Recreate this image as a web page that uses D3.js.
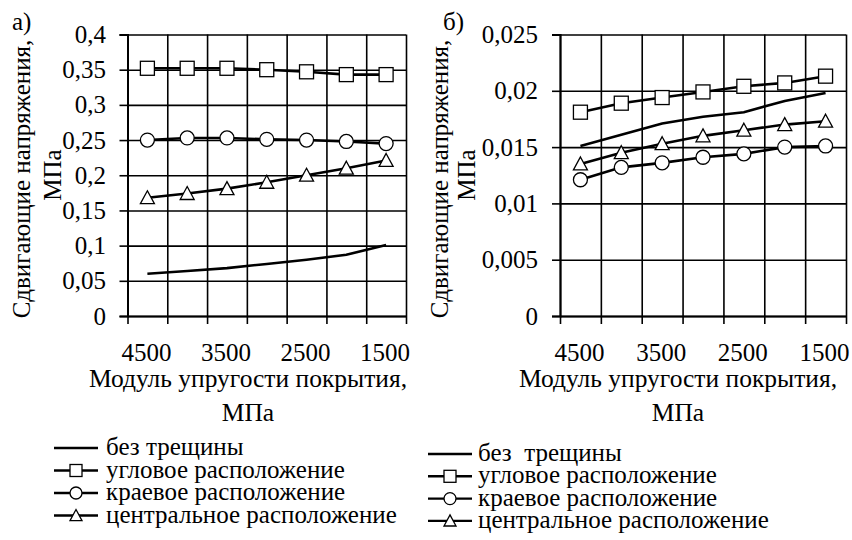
<!DOCTYPE html>
<html>
<head>
<meta charset="utf-8">
<script src="https://cdn.jsdelivr.net/npm/d3@7"></script>
</head>
<body style="margin:0;background:#fff">
<svg id="chart" width="852" height="540"></svg>
<script>
// Coating elastic modulus, MPa (category axis, descending)
const categories = ["4500", "4000", "3500", "3000", "2500", "2000", "1500"];
const xTickLabels = ["4500", "3500", "2500", "1500"];

// Panel а) shear stress, MPa
const aNoCrack = [0.060, 0.064, 0.068, 0.074, 0.080, 0.087, 0.101];
const aCorner  = [0.352, 0.352, 0.352, 0.350, 0.347, 0.343, 0.343];
const aEdge    = [0.250, 0.253, 0.253, 0.251, 0.250, 0.248, 0.245];
const aCentral = [0.168, 0.174, 0.181, 0.190, 0.200, 0.210, 0.221];
const aYTicks  = [0, 0.05, 0.1, 0.15, 0.2, 0.25, 0.3, 0.35, 0.4];

// Panel б) shear stress, MPa
const bNoCrack = [0.0151, 0.0161, 0.0171, 0.0177, 0.0181, 0.0191, 0.0198];
const bCorner  = [0.0181, 0.0189, 0.0194, 0.0199, 0.0204, 0.0207, 0.0213];
const bEdge    = [0.0121, 0.0132, 0.0136, 0.0141, 0.0144, 0.0150, 0.0151];
const bCentral = [0.0135, 0.0145, 0.0153, 0.0160, 0.0165, 0.0170, 0.0173];
const bYTicks  = [0, 0.005, 0.01, 0.015, 0.02, 0.025];

const yTitle = ["Сдвигающие напряжения,", "МПа"];
const xTitle = ["Модуль упругости покрытия,", "МПа"];
const legendA = ["без трещины", "угловое расположение", "краевое расположение", "центральное расположение"];
const legendB = ["без  трещины", "угловое расположение", "краевое расположение", "центральное расположение"];
const markerTypes = [null, "square", "circle", "triangle"];

const FONT = "Liberation Serif";
const svg = d3.select("#chart");
const fmt = v => String(v).replace(".", ",");

function txt(g, x, y, str, size, anchor) {
  return g.append("text")
    .attr("x", x).attr("y", y)
    .attr("font-family", FONT).attr("font-size", size).attr("fill", "#000")
    .attr("text-anchor", anchor)
    .attr("xml:space", "preserve").style("white-space", "pre")
    .text(str);
}

function drawMarker(g, type, cx, cy, size) {
  const h = size / 2;
  if (type === "square") {
    g.append("rect").attr("x", cx - h).attr("y", cy - h).attr("width", size).attr("height", size)
      .attr("fill", "#fff").attr("stroke", "#000").attr("stroke-width", 1.3);
  } else if (type === "circle") {
    g.append("circle").attr("cx", cx).attr("cy", cy).attr("r", h)
      .attr("fill", "#fff").attr("stroke", "#000").attr("stroke-width", 1.3);
  } else if (type === "triangle") {
    g.append("path").attr("d", `M${cx},${cy - h} L${cx + h},${cy + h * 0.85} L${cx - h},${cy + h * 0.85} Z`)
      .attr("fill", "#fff").attr("stroke", "#000").attr("stroke-width", 1.3);
  }
}

function drawPanel(cfg) {
  const g = svg.append("g");
  const x = d3.scaleBand().domain(categories).range([cfg.x0, cfg.x1]).padding(0);
  const xEdge = d3.scaleLinear().domain([0, categories.length]).range([cfg.x0, cfg.x1]);
  const y = d3.scaleLinear().domain([0, cfg.yMax]).range([cfg.yBottom, cfg.yTop]);
  const cx = c => x(c) + x.bandwidth() / 2;

  // horizontal gridlines
  g.append("g").attr("transform", `translate(${cfg.x0},0)`)
    .call(d3.axisLeft(y).tickValues(cfg.yTicks).tickSize(-(cfg.x1 - cfg.x0)).tickFormat(""))
    .call(s => s.select(".domain").remove())
    .call(s => s.selectAll("line").attr("stroke", "#000").attr("stroke-width", 1.6));

  // vertical gridlines at category boundaries
  g.append("g").attr("transform", `translate(0,${cfg.yBottom})`)
    .call(d3.axisBottom(xEdge).tickValues(d3.range(categories.length + 1)).tickSize(-(cfg.yBottom - cfg.yTop)).tickFormat(""))
    .call(s => s.select(".domain").remove())
    .call(s => s.selectAll("line").attr("stroke", "#000").attr("stroke-width", 1.6));

  // y axis line and outer ticks
  g.append("g").attr("transform", `translate(${cfg.x0},0)`)
    .call(d3.axisLeft(y).tickValues(cfg.yTicks).tickSize(8).tickFormat(""))
    .call(s => s.select(".domain").attr("stroke", "#000").attr("stroke-width", 2))
    .call(s => s.selectAll("line").attr("stroke", "#000").attr("stroke-width", 1.6));

  // x axis line and boundary ticks below
  g.append("g").attr("transform", `translate(0,${cfg.yBottom})`)
    .call(d3.axisBottom(xEdge).tickValues(d3.range(categories.length + 1)).tickSizeInner(8).tickSizeOuter(0).tickFormat(""))
    .call(s => s.select(".domain").attr("stroke", "#000").attr("stroke-width", 2))
    .call(s => s.selectAll("line").attr("stroke", "#000").attr("stroke-width", 1.6));

  // y tick labels
  cfg.yTicks.forEach(v => txt(g, cfg.yLabelX, y(v) + 8.5, fmt(v), 25, "end"));

  // x category labels (every other one)
  xTickLabels.forEach(c => txt(g, cx(c) - 1, 361, c, 25, "middle"));

  // series
  const line = d3.line().x((d, i) => cx(categories[i])).y(d => y(d));
  cfg.series.forEach((vals, k) => {
    g.append("path").datum(vals).attr("d", line)
      .attr("fill", "none").attr("stroke", "#000").attr("stroke-width", 2.6);
    if (markerTypes[k]) {
      vals.forEach((v, i) => drawMarker(g, markerTypes[k], cx(categories[i]), y(v), 14));
    }
  });

  // y title (two rotated lines)
  yTitle.forEach((t, i) => {
    g.append("text")
      .attr("transform", `translate(${cfg.yTitleX[i]},${cfg.yTitleY[i]}) rotate(-90)`)
      .attr("font-family", FONT).attr("font-size", 25).attr("fill", "#000")
      .attr("text-anchor", "middle").attr("dy", "0.33em").text(t);
  });

  // x title
  txt(g, cfg.xTitleX, 387, xTitle[0], 25.5, "middle");
  txt(g, cfg.xTitleX, 421, xTitle[1], 25.5, "middle");

  // panel letter
  txt(g, cfg.letterX, 30, cfg.letter, 25, "start");

  // legend
  cfg.legend.forEach((t, k) => {
    const ly = cfg.legY + k * cfg.legStep;
    g.append("line").attr("x1", cfg.legX).attr("x2", cfg.legX + 44).attr("y1", ly).attr("y2", ly)
      .attr("stroke", "#000").attr("stroke-width", 2.4);
    if (markerTypes[k]) drawMarker(g, markerTypes[k], cfg.legX + 22, ly, 12);
    txt(g, cfg.legTextX, ly + 7, t, 25, "start");
  });
}

drawPanel({
  x0: 127.5, x1: 406, yTop: 34.5, yBottom: 316, yMax: 0.4, yTicks: aYTicks,
  series: [aNoCrack, aCorner, aEdge, aCentral], yLabelX: 106, xTitleX: 248,
  yTitleX: [22, 53], yTitleY: [179, 175], letter: "а)", letterX: 12,
  legend: legendA, legX: 54, legTextX: 106, legY: 448, legStep: 22.5
});

drawPanel({
  x0: 560, x1: 846, yTop: 34.5, yBottom: 316, yMax: 0.025, yTicks: bYTicks,
  series: [bNoCrack, bCorner, bEdge, bCentral], yLabelX: 538, xTitleX: 678,
  yTitleX: [440, 467], yTitleY: [179, 175], letter: "б)", letterX: 443,
  legend: legendB, legX: 428, legTextX: 478, legY: 454, legStep: 22.3
});
</script>
</body>
</html>
